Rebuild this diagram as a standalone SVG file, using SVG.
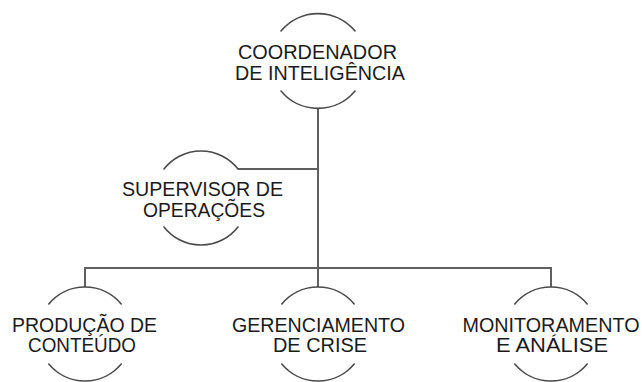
<svg xmlns="http://www.w3.org/2000/svg" width="642" height="382" viewBox="0 0 642 382">
<style>
.arc{fill:none;stroke:#4a4a4a;stroke-width:1.6;stroke-linecap:round}
.con{fill:none;stroke:#5f5f5f;stroke-width:2}
text{font-family:"Liberation Sans",Arial,sans-serif;font-size:20px;fill:#1a1a1a;text-anchor:middle}
</style>
<rect width="642" height="382" fill="#fff"/>
<g id="connectors">
<path class="con" d="M318 109 V268"/>
<path class="con" d="M238 169 H318"/>
<path class="con" d="M85 287 V268 H551 V287"/>
<path class="con" d="M318 268 V287"/>
</g>
<g id="coordenador">
<path class="arc" d="M281 31 A48 48 0 0 1 355 31"/>
<path class="arc" d="M281 91 A48 48 0 0 0 355 91"/>
<text x="317.5" y="59" textLength="159" lengthAdjust="spacingAndGlyphs">COORDENADOR</text>
<text x="320" y="80" textLength="170" lengthAdjust="spacingAndGlyphs">DE INTELIGÊNCIA</text>
</g>
<g id="supervisor">
<path class="arc" d="M164 169 A47 47 0 0 1 238 169"/>
<path class="arc" d="M164 227 A47 47 0 0 0 238 227"/>
<text x="202.5" y="196" textLength="161" lengthAdjust="spacingAndGlyphs">SUPERVISOR DE</text>
<text x="204" y="217" textLength="122" lengthAdjust="spacingAndGlyphs">OPERAÇÕES</text>
</g>
<g id="producao">
<path class="arc" d="M48.8 304 A47 47 0 0 1 121.2 304"/>
<path class="arc" d="M48.8 364 A47 47 0 0 0 121.2 364"/>
<text x="84.5" y="332" textLength="145" lengthAdjust="spacingAndGlyphs">PRODUÇÃO DE</text>
<text x="82" y="352" textLength="108" lengthAdjust="spacingAndGlyphs">CONTEÚDO</text>
</g>
<g id="gerenciamento">
<path class="arc" d="M281.8 304 A47 47 0 0 1 354.2 304"/>
<path class="arc" d="M281.8 364 A47 47 0 0 0 354.2 364"/>
<text x="318.5" y="332" textLength="173" lengthAdjust="spacingAndGlyphs">GERENCIAMENTO</text>
<text x="320" y="352" textLength="94" lengthAdjust="spacingAndGlyphs">DE CRISE</text>
</g>
<g id="monitoramento">
<path class="arc" d="M514.8 304 A47 47 0 0 1 587.2 304"/>
<path class="arc" d="M514.8 364 A47 47 0 0 0 587.2 364"/>
<text x="551" y="332" textLength="177" lengthAdjust="spacingAndGlyphs">MONITORAMENTO</text>
<text x="552" y="352" textLength="112" lengthAdjust="spacingAndGlyphs">E ANÁLISE</text>
</g>
</svg>
